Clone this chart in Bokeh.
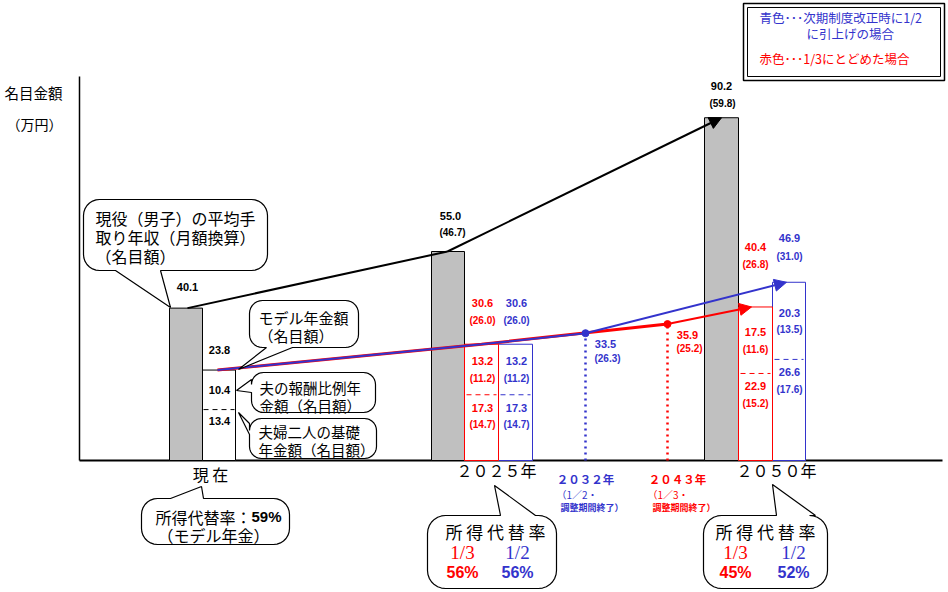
import numpy as np
from bokeh.plotting import figure
from bokeh.models import Range1d, Arrow, NormalHead
from bokeh.core.properties import value
from bokeh.embed import file_html
from bokeh.resources import INLINE

# ---------------- data ----------------
income_labels = ["現在", "2025年", "2050年"]
income = [40.1, 55.0, 90.2]           # 現役（男子）の平均手取り年収（月額換算）
income_real = [None, 46.7, 59.8]

model_now = 23.8                       # モデル年金額（現在）
hirei_now = 10.4                       # 夫の報酬比例年金額
kiso_now = 13.4                        # 夫婦二人の基礎年金額

# [2025, 2050]  red = 1/3にとどめた場合, blue = 1/2に引上げの場合
red_total = [30.6, 40.4]
red_total_real = [26.0, 26.8]
red_hirei = [13.2, 17.5]
red_hirei_real = [11.2, 11.6]
red_kiso = [17.3, 22.9]
red_kiso_real = [14.7, 15.2]

blue_total = [30.6, 46.9]
blue_total_real = [26.0, 31.0]
blue_hirei = [13.2, 20.3]
blue_hirei_real = [11.2, 13.5]
blue_kiso = [17.3, 26.6]
blue_kiso_real = [14.7, 17.6]

blue_end_value, blue_end_real = 33.5, 26.3   # 2032年
red_end_value, red_end_real = 35.9, 25.2     # 2043年

replacement_now = 59
replacement_red = [56, 45]
replacement_blue = [56, 52]

# ---------------- layout ----------------
W, H = 946, 590
BASE = 460.0     # screen y of zero
SCALE = 3.8      # px per 万円
JP = "Noto Sans CJK JP"
NUM = "Liberation Sans"
SERIF = "Liberation Serif"
RED = "#FF0000"
BLUE = "#3333CC"
GRAY = "#C0C0C0"


def Y(sy):
    return (BASE - sy) / SCALE


def up(v, px):
    return v + px / SCALE


p = figure(width=W, height=H, x_range=Range1d(0, W), y_range=Range1d(Y(H), Y(0)),
           output_backend="svg", toolbar_location=None, min_border=0,
           x_axis_type=None, y_axis_type=None)
p.grid.visible = False
p.outline_line_color = None
p.background_fill_color = "white"
p.border_fill_color = "white"


def T(x, y, s, color="black", size=11, font=NUM, bold=True, align="center"):
    p.text(x=[x], y=[y], text=[s], text_color=color, text_font=value(font),
           text_font_size=f"{size}px", text_font_style="bold" if bold else "normal",
           text_align=align, text_baseline="middle")


def bubble(x0, y0, x1, y1, r, side=None, a=None, b=None, tip=None):
    pts = []

    def arc(cx, cy, t0, t1):
        for t in np.linspace(t0, t1, 8):
            pts.append((cx + r * np.cos(t), cy + r * np.sin(t)))

    arc(x0 + r, y0 + r, np.pi, 1.5 * np.pi)
    if side == "top":
        pts.extend([(a, y0), tip, (b, y0)])
    arc(x1 - r, y0 + r, 1.5 * np.pi, 2 * np.pi)
    if side == "right":
        pts.extend([(x1, a), tip, (x1, b)])
    arc(x1 - r, y1 - r, 0, 0.5 * np.pi)
    if side == "bottom":
        pts.extend([(b, y1), tip, (a, y1)])
    arc(x0 + r, y1 - r, 0.5 * np.pi, np.pi)
    if side == "left":
        pts.extend([(x0, b), tip, (x0, a)])
    p.patch([q[0] for q in pts], [Y(q[1]) for q in pts], fill_color="white",
            line_color="black", line_width=1.2)


# ---------------- axes lines ----------------
p.segment(x0=[79], y0=[Y(76)], x1=[79], y1=[0], line_color="black", line_width=1.5)
p.segment(x0=[79], y0=[0], x1=[942], y1=[0], line_color="black", line_width=2)

T(33, Y(92), "名目金額", size=14.5, font=JP, bold=False)
T(34, Y(123), "（万円）", size=14, font=JP, bold=False)

# ---------------- legend box ----------------
p.quad(left=[743], right=[944], top=[Y(3)], bottom=[Y(80)], fill_color="white",
       line_color="black", line_width=1.5)
p.quad(left=[747], right=[940], top=[Y(7)], bottom=[Y(76)], fill_color=None,
       line_color="black", line_width=1)
T(759, Y(17), "青色･･･次期制度改正時に1/2", color=BLUE, size=12.5, font=JP, bold=False, align="left")
T(806, Y(33), "に引上げの場合", color=BLUE, size=12.5, font=JP, bold=False, align="left")
T(759, Y(58), "赤色･･･1/3にとどめた場合", color=RED, size=12.5, font=JP, bold=False, align="left")

# ---------------- bars ----------------
gray_left = [169, 431, 704]
gray_right = [202, 464, 738]
p.quad(left=gray_left, right=gray_right, bottom=0, top=income, fill_color=GRAY,
       line_color="black", line_width=1)

p.quad(left=[202], right=[235], bottom=0, top=[model_now], fill_color="white",
       line_color="black", line_width=1)
p.segment(x0=[203], y0=[kiso_now], x1=[234], y1=[kiso_now], line_color="black",
          line_width=1, line_dash="5 4")

blue_left, blue_right = [498, 772], [532, 805]
red_left, red_right = [464, 738], [498, 772]
p.quad(left=blue_left, right=blue_right, bottom=0, top=blue_total, fill_color="white",
       line_color=BLUE, line_width=1)
p.quad(left=red_left, right=red_right, bottom=0, top=red_total, fill_color="white",
       line_color=RED, line_width=1)
p.segment(x0=[l + 2 for l in blue_left], y0=blue_kiso, x1=[r - 2 for r in blue_right],
          y1=blue_kiso, line_color=BLUE, line_width=1, line_dash="5 4")
p.segment(x0=[l + 2 for l in red_left], y0=red_kiso, x1=[r - 2 for r in red_right],
          y1=red_kiso, line_color=RED, line_width=1, line_dash="5 4")

# ---------------- dotted verticals + points ----------------
X2032, X2043 = 585, 667
p.segment(x0=[X2032], y0=[0], x1=[X2032], y1=[blue_end_value], line_color=BLUE,
          line_width=2.5, line_dash="2 4")
p.segment(x0=[X2043], y0=[0], x1=[X2043], y1=[red_end_value], line_color=RED,
          line_width=2.5, line_dash="2 4")

# ---------------- trend lines ----------------
inc_x = [187, 447, 721]
p.line(inc_x[:2], income[:2], line_color="black", line_width=2)
p.add_layout(Arrow(end=NormalHead(size=12, fill_color="black", line_color="black"),
                   x_start=inc_x[1], y_start=income[1], x_end=inc_x[2], y_end=income[2],
                   line_color="black", line_width=2))

X_NOW, X_2025 = 217, 481
red_x = [X_NOW, X_2025, X2043]
red_y = [model_now, red_total[0], red_end_value]
p.line(red_x, red_y, line_color=RED, line_width=3)
p.add_layout(Arrow(end=NormalHead(size=12, fill_color=RED, line_color=RED),
                   x_start=X2043, y_start=red_end_value, x_end=751, y_end=red_total[1],
                   line_color=RED, line_width=2))

blue_x = [X_NOW, X_2025, X2032]
blue_y = [model_now, blue_total[0], blue_end_value]
p.line(blue_x, blue_y, line_color=BLUE, line_width=2)
p.add_layout(Arrow(end=NormalHead(size=12, fill_color=BLUE, line_color=BLUE),
                   x_start=X2032, y_start=blue_end_value, x_end=786, y_end=blue_total[1],
                   line_color=BLUE, line_width=2))

p.scatter([X2032], [blue_end_value], size=7, color=BLUE)
p.scatter([X2043], [red_end_value], size=7, color=RED)

# ---------------- value labels ----------------
T(187, up(income[0], 21), f"{income[0]:.1f}")
T(450, up(income[1], 36), f"{income[1]:.1f}")
T(452, up(income[1], 19), f"({income_real[1]:.1f})", size=10)
T(721, up(income[2], 32), f"{income[2]:.1f}")
T(722, up(income[2], 14), f"({income_real[2]:.1f})", size=10)

T(219, up(model_now, 20), f"{model_now:.1f}")
T(219, (kiso_now + model_now) / 2, f"{hirei_now:.1f}")
T(219, up(kiso_now, -11), f"{kiso_now:.1f}")


def pension_labels(x, total, total_r, hirei, hirei_r, kiso, kiso_r, color, o1, o2):
    T(x, up(total, o1), f"{total:.1f}", color=color)
    T(x, up(total, o2), f"({total_r:.1f})", color=color, size=10)
    mid = (kiso + total) / 2
    T(x, up(mid, 8), f"{hirei:.1f}", color=color)
    T(x, up(mid, -9), f"({hirei_r:.1f})", color=color, size=10)
    T(x, up(kiso, -13), f"{kiso:.1f}", color=color)
    T(x, up(kiso, -30), f"({kiso_r:.1f})", color=color, size=10)


pension_labels(482, red_total[0], red_total_real[0], red_hirei[0], red_hirei_real[0],
               red_kiso[0], red_kiso_real[0], RED, 41, 24)
pension_labels(516, blue_total[0], blue_total_real[0], blue_hirei[0], blue_hirei_real[0],
               blue_kiso[0], blue_kiso_real[0], BLUE, 41, 24)
pension_labels(755, red_total[1], red_total_real[1], red_hirei[1], red_hirei_real[1],
               red_kiso[1], red_kiso_real[1], RED, 60, 42)
pension_labels(789, blue_total[1], blue_total_real[1], blue_hirei[1], blue_hirei_real[1],
               blue_kiso[1], blue_kiso_real[1], BLUE, 44, 26)

T(605, up(blue_end_value, -11), f"{blue_end_value:.1f}", color=BLUE)
T(607, up(blue_end_value, -25), f"({blue_end_real:.1f})", color=BLUE, size=10)
T(687, up(red_end_value, -11), f"{red_end_value:.1f}", color=RED)
T(689, up(red_end_value, -24), f"({red_end_real:.1f})", color=RED, size=10)

# ---------------- callouts ----------------
bubble(83, 199, 267, 270, 16, "bottom", 115, 160, (170, 307))
T(95, Y(217), "現役（男子）の平均手", size=16, font=JP, bold=False, align="left")
T(95, Y(236), "取り年収（月額換算）", size=16, font=JP, bold=False, align="left")
T(95, Y(255), "（名目額）", size=16, font=JP, bold=False, align="left")

bubble(249, 300, 358, 347, 13, "bottom", 266, 292, (238, 369))
T(258, Y(317), "モデル年金額", size=15, font=JP, bold=False, align="left")
T(258, Y(335), "（名目額）", size=15, font=JP, bold=False, align="left")

bubble(251, 372, 375, 412, 12, "left", 379, 392, (236, 390))
T(259, Y(387), "夫の報酬比例年", size=14.5, font=JP, bold=False, align="left")
T(259, Y(405), "金額（名目額）", size=14.5, font=JP, bold=False, align="left")

bubble(249, 418, 376, 458, 12, "left", 423, 434, (238, 412))
T(258, Y(431), "夫婦二人の基礎", size=14.5, font=JP, bold=False, align="left")
T(258, Y(449), "年金額（名目額）", size=14.5, font=JP, bold=False, align="left")

# period labels
T(210, Y(473), "現 在", size=16, font=JP, bold=False)
T(496, Y(469), "２０２５年", size=16, font=JP, bold=False)
T(776, Y(469), "２０５０年", size=16, font=JP, bold=False)

T(585, Y(478), "２０３２年", color=BLUE, size=11.5, font=JP)
T(556, Y(494), "（1／2・", color=BLUE, size=10, font=JP, bold=False, align="left")
T(560, Y(507), "調整期間終了）", color=BLUE, size=9, font=JP, align="left")
T(677, Y(478), "２０４３年", color=RED, size=11.5, font=JP)
T(647, Y(494), "（1／3・", color=RED, size=10, font=JP, bold=False, align="left")
T(652, Y(507), "調整期間終了）", color=RED, size=9, font=JP, align="left")

# replacement-rate bubbles
bubble(141, 498, 289, 544, 16, "top", 170, 203, (201, 486))
T(155, Y(516), "所得代替率：", size=16, font=JP, bold=False, align="left")
T(251, Y(516), f"{replacement_now}%", size=15, font=NUM, align="left")
T(157, Y(534), "（モデル年金）", size=16, font=JP, bold=False, align="left")

for (bx0, bx1, ta, tb, tip, cx, xr, xb, i) in [
        (427, 556, 500, 535, (494, 485), 495, 462, 517, 0),
        (703, 827, 776, 815, (772, 484), 765, 735, 793, 1)]:
    bubble(bx0, 515, bx1, 588, 18, "top", ta, tb, tip)
    T(cx, Y(531), "所 得 代 替 率", size=17, font=JP, bold=False)
    T(xr, Y(552), "1/3", color=RED, size=19, font=SERIF, bold=False)
    T(xb, Y(552), "1/2", color=BLUE, size=19, font=SERIF, bold=False)
    T(xr, Y(572), f"{replacement_red[i]}%", color=RED, size=16)
    T(xb, Y(572), f"{replacement_blue[i]}%", color=BLUE, size=16)

open("out.html", "w").write(file_html(p, INLINE))
